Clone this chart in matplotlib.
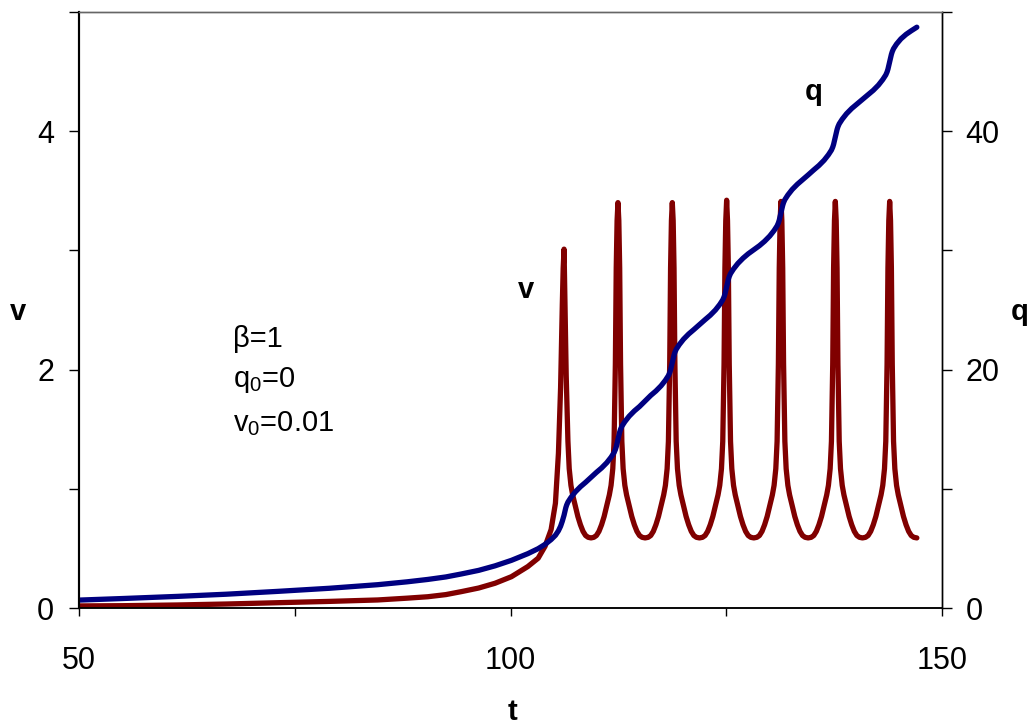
import numpy as np
import matplotlib
matplotlib.use('Agg')
import matplotlib.pyplot as plt
from matplotlib.ticker import MultipleLocator, FuncFormatter

plt.rcParams['font.family'] = ['Liberation Sans', 'DejaVu Sans']
plt.rcParams['mathtext.fontset'] = 'custom'
plt.rcParams['mathtext.rm'] = 'Liberation Sans'

# velocity v(t), spike by spike
t_v = [50, 55, 61.4, 67, 73, 79, 84.6, 88, 90.4, 92.5, 94.3, 96.3, 98.2, 100.1,
       102.0, 103.2, 104.0, 104.7, 105.2, 105.55, 105.8, 106.0, 106.1, 106.2,
       106.3, 106.45, 106.65, 106.8, 107.0, 107.2, 107.5, 107.8, 108.1, 108.4, 108.7, 109.0, 109.33,
       # spike at 112.45
       109.65, 109.95, 110.25, 110.55, 110.85, 111.15, 111.45, 111.65, 111.85, 112.0, 112.15, 112.25, 112.35, 112.45,
       112.55, 112.65, 112.75, 112.9, 113.05, 113.25, 113.45, 113.75, 114.05, 114.35, 114.65, 114.95, 115.25, 115.6,
       # spike at 118.75
       115.95, 116.25, 116.55, 116.85, 117.15, 117.45, 117.75, 117.95, 118.15, 118.3, 118.45, 118.55, 118.65, 118.75,
       118.85, 118.95, 119.05, 119.2, 119.35, 119.55, 119.75, 120.05, 120.35, 120.65, 120.95, 121.25, 121.55, 121.9,
       # spike at 125.05
       122.25, 122.55, 122.85, 123.15, 123.45, 123.75, 124.05, 124.25, 124.45, 124.6, 124.75, 124.85, 124.95, 125.05,
       125.15, 125.25, 125.35, 125.5, 125.65, 125.85, 126.05, 126.35, 126.65, 126.95, 127.25, 127.55, 127.85, 128.2,
       # spike at 131.35
       128.55, 128.85, 129.15, 129.45, 129.75, 130.05, 130.35, 130.55, 130.75, 130.9, 131.05, 131.15, 131.25, 131.35,
       131.45, 131.55, 131.65, 131.8, 131.95, 132.15, 132.35, 132.65, 132.95, 133.25, 133.55, 133.85, 134.15, 134.5,
       # spike at 137.65
       134.85, 135.15, 135.45, 135.75, 136.05, 136.35, 136.65, 136.85, 137.05, 137.2, 137.35, 137.45, 137.55, 137.65,
       137.75, 137.85, 137.95, 138.1, 138.25, 138.45, 138.65, 138.95, 139.25, 139.55, 139.85, 140.15, 140.45, 140.8,
       # spike at 143.95
       141.15, 141.45, 141.75, 142.05, 142.35, 142.65, 142.95, 143.15, 143.35, 143.5, 143.65, 143.75, 143.85, 143.95,
       144.05, 144.15, 144.25, 144.4, 144.55, 144.75, 144.95, 145.25, 145.55, 145.85, 146.15, 146.45, 146.75, 147.1]
v = [0.02, 0.022, 0.028, 0.036, 0.047, 0.058, 0.07, 0.085, 0.097, 0.115, 0.14, 0.17, 0.21, 0.265,
     0.35, 0.42, 0.52, 0.66, 0.88, 1.30, 1.85, 2.55, 2.85, 3.01,
     2.60, 1.95, 1.40, 1.17, 1.03, 0.95, 0.86, 0.77, 0.70, 0.645, 0.61, 0.595, 0.59,
     0.595, 0.61, 0.645, 0.70, 0.77, 0.86, 0.95, 1.03, 1.17, 1.40, 2.05, 2.85, 3.25, 3.40,
     3.25, 2.85, 2.05, 1.40, 1.17, 1.03, 0.95, 0.86, 0.77, 0.70, 0.645, 0.61, 0.595, 0.59,
     0.595, 0.61, 0.645, 0.70, 0.77, 0.86, 0.95, 1.03, 1.17, 1.40, 2.05, 2.85, 3.25, 3.40,
     3.25, 2.85, 2.05, 1.40, 1.17, 1.03, 0.95, 0.86, 0.77, 0.70, 0.645, 0.61, 0.595, 0.59,
     0.595, 0.61, 0.645, 0.70, 0.77, 0.86, 0.95, 1.03, 1.17, 1.40, 2.05, 2.85, 3.25, 3.42,
     3.25, 2.85, 2.05, 1.40, 1.17, 1.03, 0.95, 0.86, 0.77, 0.70, 0.645, 0.61, 0.595, 0.59,
     0.595, 0.61, 0.645, 0.70, 0.77, 0.86, 0.95, 1.03, 1.17, 1.40, 2.05, 2.85, 3.25, 3.41,
     3.25, 2.85, 2.05, 1.40, 1.17, 1.03, 0.95, 0.86, 0.77, 0.70, 0.645, 0.61, 0.595, 0.59,
     0.595, 0.61, 0.645, 0.70, 0.77, 0.86, 0.95, 1.03, 1.17, 1.40, 2.05, 2.85, 3.25, 3.41,
     3.25, 2.85, 2.05, 1.40, 1.17, 1.03, 0.95, 0.86, 0.77, 0.70, 0.645, 0.61, 0.595, 0.59,
     0.595, 0.61, 0.645, 0.70, 0.77, 0.86, 0.95, 1.03, 1.17, 1.40, 2.05, 2.85, 3.25, 3.41,
     3.25, 2.85, 2.05, 1.40, 1.17, 1.03, 0.95, 0.86, 0.77, 0.70, 0.645, 0.61, 0.595, 0.59]

# charge q(t)
t_q = [50, 55, 61.4, 67, 73, 79, 84.6, 88, 90.4, 92.5, 94.3, 96.3, 98.2, 100.1, 102,
       103.2, 104, 104.7, 105.2, 105.55, 105.8, 106.0, 106.2,
       106.3, 106.4, 106.5, 106.65, 107.0, 107.5, 108.1, 108.7, 109.33,
       109.95, 110.55, 111.15, 111.65, 112.0, 112.15, 112.25, 112.35, 112.45,
       112.55, 112.65, 112.75, 112.9, 113.25, 113.75, 114.35, 114.95, 115.6,
       116.25, 116.85, 117.45, 117.95, 118.3, 118.45, 118.55, 118.65, 118.75,
       118.85, 118.95, 119.05, 119.2, 119.55, 120.05, 120.65, 121.25, 121.9,
       122.55, 123.15, 123.75, 124.25, 124.6, 124.75, 124.85, 124.95, 125.05,
       125.15, 125.25, 125.35, 125.5, 125.85, 126.35, 126.95, 127.55, 128.2,
       128.85, 129.45, 130.05, 130.55, 130.9, 131.05, 131.15, 131.25, 131.35,
       131.45, 131.55, 131.65, 131.8, 132.15, 132.65, 133.25, 133.85, 134.5,
       135.15, 135.75, 136.35, 136.85, 137.2, 137.35, 137.45, 137.55, 137.65,
       137.75, 137.85, 137.95, 138.1, 138.45, 138.95, 139.55, 140.15, 140.8,
       141.45, 142.05, 142.65, 143.15, 143.5, 143.65, 143.75, 143.85, 143.95,
       144.05, 144.15, 144.25, 144.4, 144.75, 145.25, 145.85, 146.45, 147.1]
q = [0.69, 0.82, 1.0, 1.18, 1.42, 1.68, 1.98, 2.22, 2.42, 2.63, 2.88, 3.18, 3.56, 4.02, 4.58,
     5.0, 5.36, 5.76, 6.12, 6.5, 6.88, 7.3, 7.8,
     8.12, 8.42, 8.65, 8.9, 9.29, 9.75, 10.19, 10.56, 10.98,
     11.39, 11.76, 12.2, 12.66, 13.05, 13.3, 13.53, 13.83, 14.15,
     14.47, 14.77, 15.0, 15.25, 15.64, 16.1, 16.54, 16.91, 17.38,
     17.84, 18.21, 18.65, 19.11, 19.5, 19.75, 19.98, 20.28, 20.6,
     20.92, 21.22, 21.45, 21.7, 22.09, 22.55, 22.99, 23.36, 23.78,
     24.19, 24.56, 25.0, 25.46, 25.85, 26.1, 26.33, 26.63, 26.95,
     27.27, 27.57, 27.8, 28.05, 28.44, 28.9, 29.34, 29.71, 30.05,
     30.39, 30.76, 31.2, 31.66, 32.05, 32.3, 32.53, 32.83, 33.15,
     33.47, 33.77, 34.0, 34.25, 34.64, 35.1, 35.54, 35.91, 36.32,
     36.74, 37.11, 37.55, 38.01, 38.4, 38.65, 38.88, 39.18, 39.5,
     39.82, 40.12, 40.35, 40.6, 40.99, 41.45, 41.89, 42.26, 42.65,
     43.04, 43.41, 43.85, 44.31, 44.7, 44.95, 45.18, 45.48, 45.8,
     46.12, 46.42, 46.65, 46.9, 47.29, 47.72, 48.1, 48.4, 48.7]

fig = plt.figure(figsize=(10.35, 7.26), dpi=100)
ax = fig.add_axes([0.0766, 0.1621, 0.8334, 0.8218])
ax.plot(t_v, v, color='#800000', lw=3.8, solid_capstyle='round', solid_joinstyle='round')
ax.set_xlim(50, 150)
ax.set_ylim(0, 5)

ax2 = ax.twinx()
ax2.plot(t_q, q, color='#000080', lw=3.8, solid_capstyle='round', solid_joinstyle='round')
ax2.set_ylim(0, 50)

# ticks
ax.xaxis.set_major_locator(MultipleLocator(25))
ax.xaxis.set_major_formatter(FuncFormatter(lambda x, p: '%d' % x if x % 50 == 0 else ''))
ax.yaxis.set_major_locator(MultipleLocator(1))
ax.yaxis.set_major_formatter(FuncFormatter(lambda y, p: '%d' % y if y % 2 == 0 and y < 5 else ''))
ax2.yaxis.set_major_locator(MultipleLocator(10))
ax2.yaxis.set_major_formatter(FuncFormatter(lambda y, p: '%d' % y if y % 20 == 0 and y < 50 else ''))

ax.tick_params(axis='x', direction='out', length=6, width=1, pad=21, labelsize=22)
ax.tick_params(axis='y', direction='out', length=7, width=1, pad=11, labelsize=22)
ax2.tick_params(axis='y', direction='out', length=7, width=1, pad=10, labelsize=22)

for a in (ax, ax2):
    a.spines['top'].set_color('#666666')
    a.spines['top'].set_linewidth(1)
    a.spines['left'].set_linewidth(1.5)
    a.spines['bottom'].set_linewidth(1.1)
    a.spines['right'].set_linewidth(1)

# labels
fig.text(0.0174, 0.570, 'v', fontsize=21, fontweight='bold', ha='center', va='center')
fig.text(0.9855, 0.570, 'q', fontsize=21, fontweight='bold', ha='center', va='center')
fig.text(0.4947, 0.019, 't', fontsize=21, fontweight='bold', ha='center', va='center')

ax.text(101.74, 2.60, 'v', fontsize=21, fontweight='bold', ha='center', va='baseline')
ax.text(135.1, 4.26, 'q', fontsize=21, fontweight='bold', ha='center', va='baseline')

ax.text(67.8, 2.26, '\u03b2=1', fontsize=21, ha='left', va='center')
ax.text(67.8, 1.91, r'q$_{\mathrm{0}}$=0', fontsize=21, ha='left', va='center')
ax.text(67.8, 1.55, r'v$_{\mathrm{0}}$=0.01', fontsize=21, ha='left', va='center')

fig.savefig('out.png', dpi=100)
